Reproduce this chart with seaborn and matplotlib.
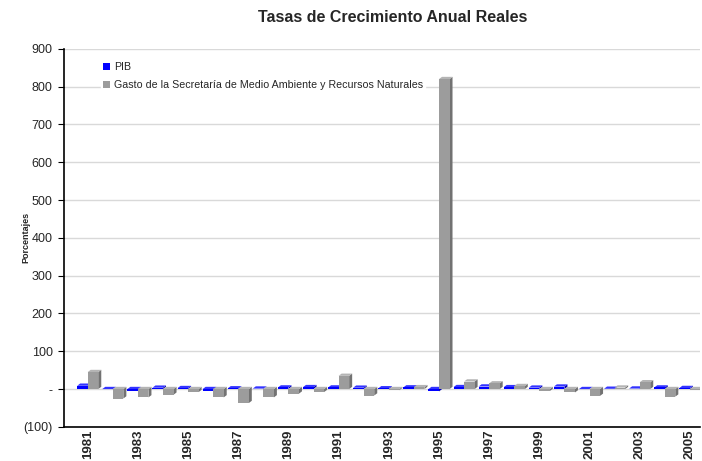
import matplotlib
matplotlib.use("Agg")
import matplotlib.pyplot as plt
from matplotlib.patches import Polygon
import numpy as np
import pandas as pd
import seaborn as sns

years = list(range(1981, 2006))
pib = [8.8, -0.6, -4.2, 3.6, 2.6, -3.8, 1.9, 1.3, 4.2, 5.1, 4.2, 3.6, 2.0,
       4.4, -6.2, 5.2, 6.8, 5.0, 3.8, 6.6, -0.2, 0.8, 1.4, 4.2, 2.8]
gasto = [45, -25, -22, -15, -8, -22, -37, -22, -12, -8, 35, -17, -3,
         5, 820, 20, 15, 8, -5, -9, -18, 4, 18, -20, -3]
series = ["PIB", "Gasto de la Secretaría de Medio Ambiente y Recursos Naturales"]
colors = ["#0000ff", "#9c9c9c"]
side_colors = ["#0000b0", "#727272"]
top_colors = ["#3333ff", "#b4b4b4"]

df = pd.DataFrame({
    "year": [str(y) for y in years] * 2,
    "value": pib + gasto,
    "serie": [series[0]] * len(years) + [series[1]] * len(years),
})

sns.set_style("white")
plt.rcParams["font.family"] = ["Liberation Sans", "DejaVu Sans"]

fig = plt.figure(figsize=(7.02, 4.61), dpi=100)
ax = fig.add_axes([0.091, 0.074, 0.906, 0.820])

sns.barplot(data=df, x="year", y="value", hue="serie", palette=colors,
            width=0.84, ax=ax, saturation=1, linewidth=0, zorder=3)

ax.set_ylim(-100, 900)
ax.set_xlim(-0.95, len(years) - 0.6)

# fake 3D depth for each bar
dx, dy = 0.12, 6
for i, cont in enumerate(ax.containers):
    for p in cont.patches:
        x0, w = p.get_x(), p.get_width()
        y0, h = p.get_y(), p.get_height()
        ylo, yhi = min(y0, y0 + h), max(y0, y0 + h)
        side = Polygon([(x0 + w, ylo), (x0 + w + dx, ylo + dy),
                        (x0 + w + dx, yhi + dy), (x0 + w, yhi)],
                       closed=True, color=side_colors[i], lw=0, zorder=2.9)
        top = Polygon([(x0, yhi), (x0 + dx, yhi + dy),
                       (x0 + w + dx, yhi + dy), (x0 + w, yhi)],
                      closed=True, color=top_colors[i], lw=0, zorder=2.9)
        ax.add_patch(side)
        ax.add_patch(top)

yticks = list(range(-100, 1000, 100))
ylabels = ["(100)", "-"] + [str(v) for v in yticks[2:]]
ax.set_yticks(yticks)
ax.set_yticklabels(ylabels, fontsize=9)
ax.yaxis.grid(True, color="#d9d9d9", lw=1, zorder=0)
ax.set_axisbelow(True)

ax.set_xticks(range(0, len(years), 2))
ax.set_xticklabels([str(y) for y in years[::2]], rotation=90,
                   fontsize=9.5, fontweight="bold")
ax.tick_params(axis="x", length=0, pad=2)
ax.tick_params(axis="y", length=4, left=True, color="black", pad=4)

for s in ["top", "right"]:
    ax.spines[s].set_visible(False)
for s in ["left", "bottom"]:
    ax.spines[s].set_color("black")
    ax.spines[s].set_linewidth(1.2)

ax.set_xlabel("")
ax.set_ylabel("Porcentajes", fontsize=6.5, fontweight="bold")
ax.yaxis.set_label_coords(-0.052, 0.5)

fig.suptitle("Tasas de Crecimiento Anual Reales", fontsize=11.5,
             fontweight="bold", x=0.56, y=0.978)

leg = ax.legend(loc="upper left", bbox_to_anchor=(0.05, 0.985), frameon=True,
                fontsize=7.7, handlelength=0.6, handleheight=0.6,
                handletextpad=0.4, borderpad=0.2, labelspacing=0.75)
leg.get_frame().set_facecolor("white")
leg.get_frame().set_edgecolor("white")
leg.get_frame().set_alpha(1)
leg.set_zorder(2.5)

fig.savefig("out.png", dpi=100)
